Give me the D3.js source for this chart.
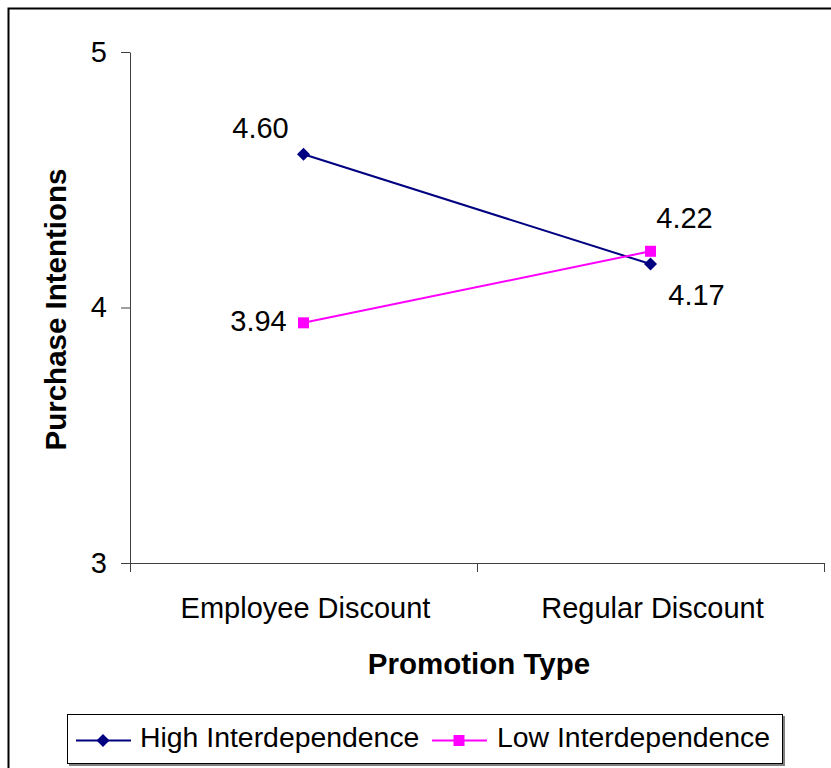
<!DOCTYPE html>
<html>
<head>
<meta charset="utf-8">
<script src="https://cdn.jsdelivr.net/npm/d3@7"></script>
<style>
  html, body { margin: 0; padding: 0; background: #fff; }
  svg { display: block; font-family: "Liberation Sans", Arial, sans-serif; }
</style>
</head>
<body>
<svg id="chart" width="831" height="768"></svg>
<script>
// Promotion type categories on the x axis
const categories = ["Employee Discount", "Regular Discount"];
// Series names and mean purchase intentions
const seriesNames = ["High Interdependence", "Low Interdependence"];
const highValues = [4.60, 4.17];
const lowValues = [3.94, 4.22];
const yTicks = [3, 4, 5];
const xTitle = "Promotion Type";
const yTitle = "Purchase Intentions";

const svg = d3.select("#chart");

const plot = { left: 130, right: 824, top: 52, bottom: 563 };
const fontSize = 29;
const boldSize = 29.5;
const legendSize = 28.4;

const x = d3.scaleBand().domain(categories).range([plot.left, plot.right]).padding(0);
const y = d3.scaleLinear().domain([3, 5]).range([plot.bottom, plot.top]);

const series = [
  { name: seriesNames[0], values: highValues, color: "#000080", marker: "diamond",
    // label offsets (dx, dy to baseline) per point
    labelPos: [[-43, -16], [46, 41]] },
  { name: seriesNames[1], values: lowValues, color: "#FF00FF", marker: "square",
    labelPos: [[-45, 8], [34, -23]] }
];

// chart frame
svg.append("rect")
  .attr("x", 8.5).attr("y", 8.5)
  .attr("width", 840).attr("height", 800)
  .attr("fill", "#fff").attr("stroke", "#000").attr("stroke-width", 2);

const axisColor = "#404040";

// y axis
const yAxis = svg.append("g")
  .attr("transform", `translate(${plot.left},0)`)
  .call(d3.axisLeft(y).tickValues(yTicks).tickFormat(d3.format("d")).tickSize(9).tickSizeOuter(0).tickPadding(14));
yAxis.select(".domain").attr("stroke", axisColor).attr("stroke-width", 1);
yAxis.selectAll(".tick line").attr("stroke", axisColor);
yAxis.selectAll(".tick text")
  .attr("font-size", fontSize).attr("fill", "#000")
  .attr("font-family", "Liberation Sans, Arial, sans-serif");

// x axis line with ticks at category boundaries
const xg = svg.append("g");
xg.append("line")
  .attr("x1", x.range()[0]).attr("x2", x.range()[1])
  .attr("y1", plot.bottom + 0.5).attr("y2", plot.bottom + 0.5)
  .attr("stroke", axisColor);
const boundaries = categories.map(c => x(c)).concat([x(categories[categories.length - 1]) + x.bandwidth()]);
xg.selectAll("line.tk").data(boundaries).join("line")
  .attr("class", "tk")
  .attr("x1", d => Math.round(d) + 0.5).attr("x2", d => Math.round(d) + 0.5)
  .attr("y1", plot.bottom).attr("y2", plot.bottom + 9)
  .attr("stroke", axisColor);
xg.selectAll("text.cat").data(categories).join("text")
  .attr("class", "cat")
  .attr("x", d => x(d) + x.bandwidth() / 2 + 2)
  .attr("y", 618)
  .attr("text-anchor", "middle")
  .attr("font-size", fontSize)
  .text(d => d);

// axis titles
svg.append("text")
  .attr("x", (plot.left + plot.right) / 2 + 2)
  .attr("y", 674)
  .attr("text-anchor", "middle")
  .attr("font-size", boldSize).attr("font-weight", "bold")
  .text(xTitle);
svg.append("text")
  .attr("transform", `translate(66,${(plot.top + plot.bottom) / 2 + 2}) rotate(-90)`)
  .attr("text-anchor", "middle")
  .attr("font-size", boldSize).attr("font-weight", "bold")
  .text(yTitle);

// lines, markers and value labels
const cx = c => x(c) + x.bandwidth() / 2;
const line = d3.line().x((d, i) => cx(categories[i])).y(d => y(d));

function drawMarker(g, type, px, py, color) {
  if (type === "diamond") {
    const r = 6.5;
    g.append("path")
      .attr("d", `M${px},${py - r}L${px + r},${py}L${px},${py + r}L${px - r},${py}Z`)
      .attr("fill", color);
  } else {
    g.append("rect")
      .attr("x", px - 5.5).attr("y", py - 5.5)
      .attr("width", 11).attr("height", 11)
      .attr("fill", color);
  }
}

series.forEach(s => {
  const g = svg.append("g");
  g.append("path")
    .datum(s.values)
    .attr("d", line)
    .attr("fill", "none")
    .attr("stroke", s.color)
    .attr("stroke-width", 2);
  s.values.forEach((v, i) => {
    drawMarker(g, s.marker, cx(categories[i]), y(v), s.color);
    g.append("text")
      .attr("x", cx(categories[i]) + s.labelPos[i][0])
      .attr("y", y(v) + s.labelPos[i][1])
      .attr("text-anchor", "middle")
      .attr("font-size", fontSize)
      .text(d3.format(".2f")(v));
  });
});

// legend
const lg = svg.append("g");
lg.append("rect")
  .attr("x", 69).attr("y", 716).attr("width", 716).attr("height", 50)
  .attr("fill", "#808080");
lg.append("rect")
  .attr("x", 67.5).attr("y", 714.5).attr("width", 715).attr("height", 49)
  .attr("fill", "#fff").attr("stroke", "#000").attr("stroke-width", 1);
const legendItems = [
  { s: series[0], x0: 76, tx: 140 },
  { s: series[1], x0: 432, tx: 497 }
];
legendItems.forEach(it => {
  const ly = 740.5;
  lg.append("line")
    .attr("x1", it.x0).attr("x2", it.x0 + 55)
    .attr("y1", ly).attr("y2", ly)
    .attr("stroke", it.s.color).attr("stroke-width", 2);
  drawMarker(lg, it.s.marker, it.x0 + 27, ly, it.s.color);
  lg.append("text")
    .attr("x", it.tx).attr("y", 747)
    .attr("font-size", legendSize)
    .text(it.s.name);
});
</script>
</body>
</html>
